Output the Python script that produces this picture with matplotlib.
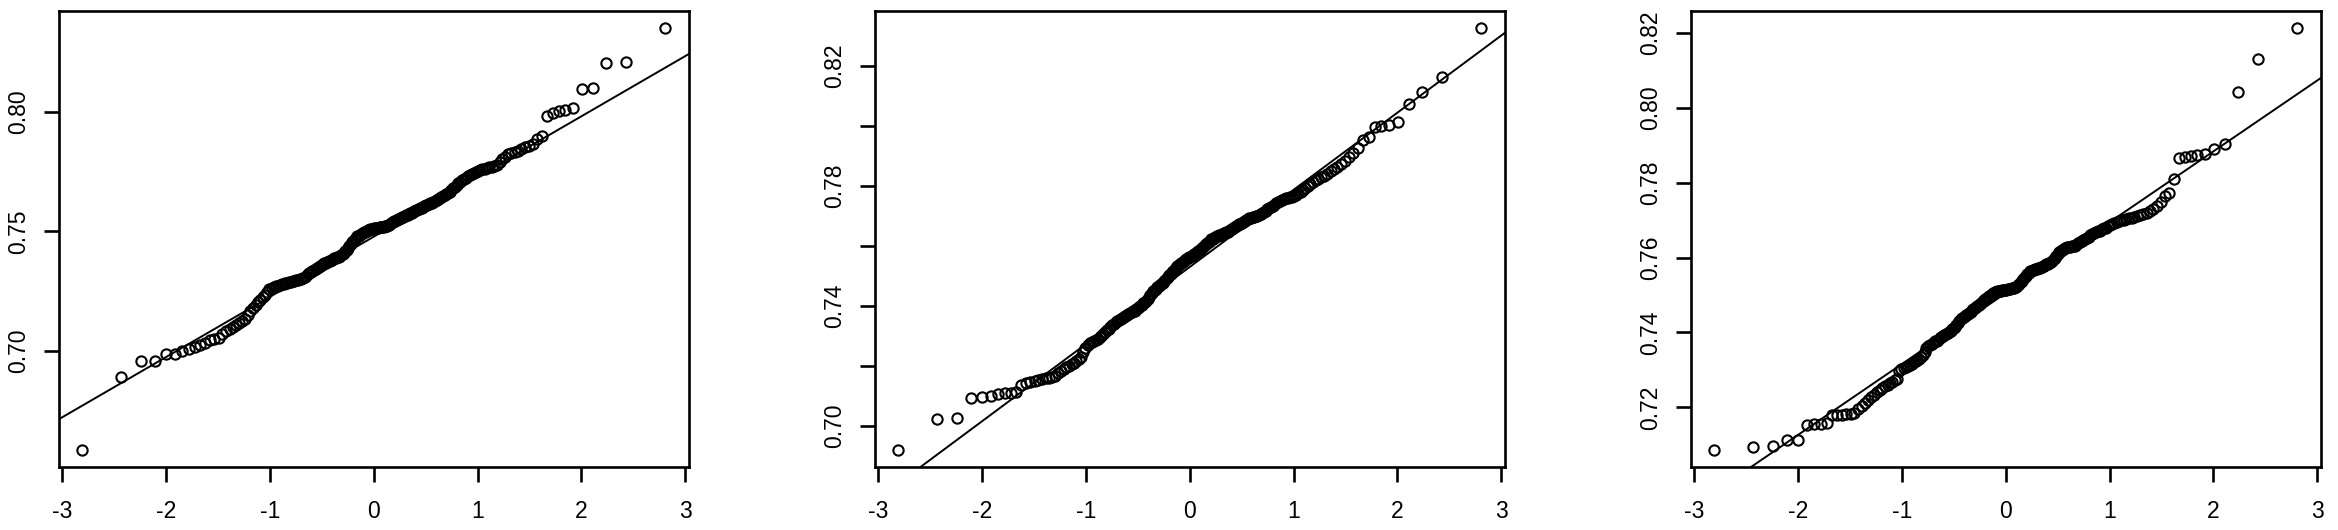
import numpy as np
import matplotlib
matplotlib.use("Agg")
import matplotlib.pyplot as plt
from statistics import NormalDist

# ---------------- data (sorted samples) ----------------
y1 = [0.6585, 0.6890, 0.6956, 0.6958, 0.6986, 0.6989, 0.7000, 0.7008, 0.7015, 0.7025,
      0.7035, 0.7045, 0.7052, 0.7055, 0.7070, 0.7085, 0.7092, 0.7100, 0.7110, 0.7118,
      0.7125, 0.7135, 0.7150, 0.7165, 0.7180, 0.7192, 0.7205, 0.7215, 0.7225, 0.7235,
      0.7245, 0.7258, 0.7264, 0.7267, 0.7270, 0.7273, 0.7276, 0.7279, 0.7282, 0.7284,
      0.7286, 0.7288, 0.7290, 0.7292, 0.7294, 0.7296, 0.7298, 0.7300, 0.7303, 0.7306,
      0.7309, 0.7314, 0.7320, 0.7326, 0.7332, 0.7336, 0.7340, 0.7344, 0.7347, 0.7350,
      0.7355, 0.7359, 0.7362, 0.7366, 0.7369, 0.7372, 0.7375, 0.7378, 0.7381, 0.7384,
      0.7387, 0.7389, 0.7391, 0.7393, 0.7396, 0.7400, 0.7405, 0.7410, 0.7417, 0.7424,
      0.7432, 0.7440, 0.7448, 0.7455, 0.7462, 0.7468, 0.7474, 0.7479, 0.7483, 0.7487,
      0.7490, 0.7493, 0.7496, 0.7499, 0.7502, 0.7505, 0.7507, 0.7509, 0.7511, 0.7512,
      0.7513, 0.7514, 0.7515, 0.7516, 0.7517, 0.7518, 0.7519, 0.7520, 0.7521, 0.7522,
      0.7524, 0.7527, 0.7530, 0.7534, 0.7538, 0.7542, 0.7545, 0.7548, 0.7551, 0.7554,
      0.7556, 0.7559, 0.7562, 0.7565, 0.7568, 0.7570, 0.7573, 0.7576, 0.7579, 0.7582,
      0.7585, 0.7588, 0.7591, 0.7594, 0.7597, 0.7600, 0.7603, 0.7606, 0.7609, 0.7612,
      0.7614, 0.7617, 0.7620, 0.7624, 0.7628, 0.7632, 0.7636, 0.7640, 0.7644, 0.7647,
      0.7651, 0.7656, 0.7661, 0.7667, 0.7673, 0.7680, 0.7687, 0.7694, 0.7701, 0.7708,
      0.7715, 0.7720, 0.7725, 0.7730, 0.7735, 0.7740, 0.7745, 0.7749, 0.7753, 0.7757,
      0.7760, 0.7763, 0.7766, 0.7768, 0.7770, 0.7773, 0.7780, 0.7790, 0.7802, 0.7812,
      0.7822, 0.7827, 0.7832, 0.7838, 0.7845, 0.7852, 0.7858, 0.7866, 0.7885, 0.7898,
      0.7982, 0.7995, 0.8003, 0.8010, 0.8017, 0.8095, 0.8100, 0.8205, 0.8208, 0.8353]

y2 = [0.6919, 0.7023, 0.7026, 0.7094, 0.7096, 0.7099, 0.7105, 0.7108, 0.7110, 0.7113,
      0.7135, 0.7142, 0.7147, 0.7150, 0.7153, 0.7156, 0.7158, 0.7160, 0.7163, 0.7167,
      0.7175, 0.7183, 0.7190, 0.7195, 0.7200, 0.7205, 0.7210, 0.7215, 0.7222, 0.7230,
      0.7245, 0.7258, 0.7268, 0.7275, 0.7280, 0.7284, 0.7287, 0.7290, 0.7295, 0.7300,
      0.7306, 0.7312, 0.7318, 0.7324, 0.7330, 0.7335, 0.7340, 0.7345, 0.7349, 0.7353,
      0.7357, 0.7360, 0.7363, 0.7366, 0.7369, 0.7372, 0.7375, 0.7378, 0.7381, 0.7384,
      0.7388, 0.7392, 0.7396, 0.7400, 0.7404, 0.7408, 0.7412, 0.7417, 0.7422, 0.7428,
      0.7435, 0.7442, 0.7448, 0.7453, 0.7457, 0.7461, 0.7465, 0.7469, 0.7473, 0.7477,
      0.7482, 0.7487, 0.7492, 0.7497, 0.7502, 0.7507, 0.7512, 0.7517, 0.7522, 0.7527,
      0.7532, 0.7536, 0.7540, 0.7543, 0.7546, 0.7549, 0.7552, 0.7555, 0.7558, 0.7561,
      0.7564, 0.7567, 0.7570, 0.7573, 0.7576, 0.7579, 0.7582, 0.7585, 0.7589, 0.7593,
      0.7597, 0.7601, 0.7605, 0.7609, 0.7613, 0.7617, 0.7621, 0.7624, 0.7627, 0.7629,
      0.7631, 0.7633, 0.7635, 0.7637, 0.7639, 0.7641, 0.7643, 0.7645, 0.7647, 0.7650,
      0.7653, 0.7656, 0.7659, 0.7662, 0.7665, 0.7668, 0.7671, 0.7674, 0.7677, 0.7680,
      0.7683, 0.7686, 0.7689, 0.7691, 0.7693, 0.7695, 0.7697, 0.7699, 0.7700, 0.7702,
      0.7705, 0.7709, 0.7713, 0.7717, 0.7721, 0.7725, 0.7729, 0.7733, 0.7737, 0.7741,
      0.7745, 0.7749, 0.7752, 0.7755, 0.7758, 0.7760, 0.7762, 0.7764, 0.7767, 0.7770,
      0.7775, 0.7780, 0.7786, 0.7793, 0.7800, 0.7807, 0.7813, 0.7818, 0.7823, 0.7828,
      0.7833, 0.7840, 0.7848, 0.7856, 0.7864, 0.7874, 0.7884, 0.7895, 0.7908, 0.7925,
      0.7953, 0.7961, 0.7997, 0.8000, 0.8003, 0.8014, 0.8074, 0.8111, 0.8161, 0.8327]

y3 = [0.7086, 0.7095, 0.7096, 0.7112, 0.7113, 0.7152, 0.7155, 0.7157, 0.7159, 0.7179,
      0.7180, 0.7181, 0.7182, 0.7183, 0.7185, 0.7195, 0.7205, 0.7213, 0.7220, 0.7227,
      0.7234, 0.7240, 0.7246, 0.7251, 0.7256, 0.7260, 0.7264, 0.7268, 0.7272, 0.7276,
      0.7298, 0.7302, 0.7305, 0.7308, 0.7311, 0.7314, 0.7317, 0.7320, 0.7323, 0.7326,
      0.7330, 0.7335, 0.7340, 0.7348, 0.7358, 0.7363, 0.7367, 0.7370, 0.7373, 0.7376,
      0.7378, 0.7381, 0.7384, 0.7387, 0.7390, 0.7393, 0.7396, 0.7399, 0.7402, 0.7405,
      0.7408, 0.7411, 0.7415, 0.7420, 0.7426, 0.7431, 0.7435, 0.7438, 0.7441, 0.7444,
      0.7447, 0.7450, 0.7453, 0.7456, 0.7459, 0.7462, 0.7465, 0.7468, 0.7471, 0.7474,
      0.7477, 0.7480, 0.7483, 0.7486, 0.7489, 0.7492, 0.7495, 0.7498, 0.7500, 0.7502,
      0.7505, 0.7507, 0.7509, 0.7510, 0.7511, 0.7512, 0.7512, 0.7513, 0.7513, 0.7514,
      0.7514, 0.7515, 0.7516, 0.7517, 0.7518, 0.7519, 0.7520, 0.7522, 0.7524, 0.7527,
      0.7530, 0.7534, 0.7538, 0.7542, 0.7547, 0.7552, 0.7556, 0.7560, 0.7563, 0.7565,
      0.7567, 0.7568, 0.7569, 0.7570, 0.7571, 0.7572, 0.7574, 0.7576, 0.7578, 0.7580,
      0.7582, 0.7584, 0.7586, 0.7589, 0.7592, 0.7596, 0.7600, 0.7605, 0.7610, 0.7614,
      0.7617, 0.7620, 0.7623, 0.7625, 0.7627, 0.7628, 0.7629, 0.7630, 0.7631, 0.7632,
      0.7635, 0.7638, 0.7641, 0.7644, 0.7647, 0.7650, 0.7653, 0.7656, 0.7659, 0.7662,
      0.7665, 0.7668, 0.7670, 0.7672, 0.7675, 0.7678, 0.7680, 0.7683, 0.7686, 0.7689,
      0.7692, 0.7695, 0.7697, 0.7699, 0.7701, 0.7703, 0.7705, 0.7707, 0.7709, 0.7711,
      0.7713, 0.7716, 0.7720, 0.7725, 0.7730, 0.7737, 0.7748, 0.7765, 0.7772, 0.7810,
      0.7867, 0.7868, 0.7871, 0.7874, 0.7877, 0.7889, 0.7903, 0.8041, 0.8131, 0.8214]

x_ticks = [-3, -2, -1, 0, 1, 2, 3]
x_ticklabels = ["-3", "-2", "-1", "0", "1", "2", "3"]

y1_ticks = [0.70, 0.75, 0.80]
y1_ticklabels = ["0.70", "0.75", "0.80"]
y2_ticks = [0.70, 0.72, 0.74, 0.76, 0.78, 0.80, 0.82]
y2_ticklabels = ["0.70", "", "0.74", "", "0.78", "", "0.82"]
y3_ticks = [0.72, 0.74, 0.76, 0.78, 0.80, 0.82]
y3_ticklabels = ["0.72", "0.74", "0.76", "0.78", "0.80", "0.82"]

samples = [y1, y2, y3]
yticks = [y1_ticks, y2_ticks, y3_ticks]
yticklabels = [y1_ticklabels, y2_ticklabels, y3_ticklabels]

# ---------------- layout ----------------
W, H = 2338, 530
DPI = 100
plt.rcParams['font.family'] = ['Liberation Sans', 'DejaVu Sans']
plt.rcParams['axes.unicode_minus'] = False

fig = plt.figure(figsize=(W / DPI, H / DPI), dpi=DPI)
fig.patch.set_facecolor('white')

panel_left_px = [59, 875, 1691]
panel_w_px = 629.5
panel_top_px = 10.7
panel_bottom_px = 467.0

nd = NormalDist()
LW = 1.9

for k in range(3):
    y = np.sort(np.asarray(samples[k]))
    n = len(y)
    x = np.array([nd.inv_cdf((i + 0.5) / n) for i in range(n)])

    l = panel_left_px[k] / W
    b = 1 - panel_bottom_px / H
    w = panel_w_px / W
    h = (panel_bottom_px - panel_top_px) / H
    ax = fig.add_axes([l, b, w, h])

    ax.plot(x, y, linestyle='none', marker='o', markersize=7.4,
            markerfacecolor='none', markeredgecolor='black', markeredgewidth=1.5)

    # qqline through the 1st and 3rd quartiles
    yq = np.quantile(y, [0.25, 0.75])
    xq = np.array([nd.inv_cdf(0.25), nd.inv_cdf(0.75)])
    slope = (yq[1] - yq[0]) / (xq[1] - xq[0])
    inter = yq[0] - slope * xq[0]
    ax.axline((0, inter), slope=slope, color='black', linewidth=1.4)

    # R-style 4% axis extension
    xr = x.max() - x.min()
    yr = y.max() - y.min()
    ax.set_xlim(x.min() - 0.04 * xr, x.max() + 0.04 * xr)
    ax.set_ylim(y.min() - 0.04 * yr, y.max() + 0.04 * yr)

    ax.set_xticks(x_ticks)
    ax.set_xticklabels(x_ticklabels)
    ax.set_yticks(yticks[k])
    ax.set_yticklabels(yticklabels[k], rotation=90, va='center')

    ax.tick_params(axis='both', direction='out', length=11, width=LW,
                   labelsize=16.5, colors='black')
    ax.tick_params(axis='x', pad=12.5)
    ax.tick_params(axis='y', pad=10)
    for s in ax.spines.values():
        s.set_linewidth(LW)
        s.set_color('black')

fig.savefig('out.png', dpi=DPI, facecolor='white')
